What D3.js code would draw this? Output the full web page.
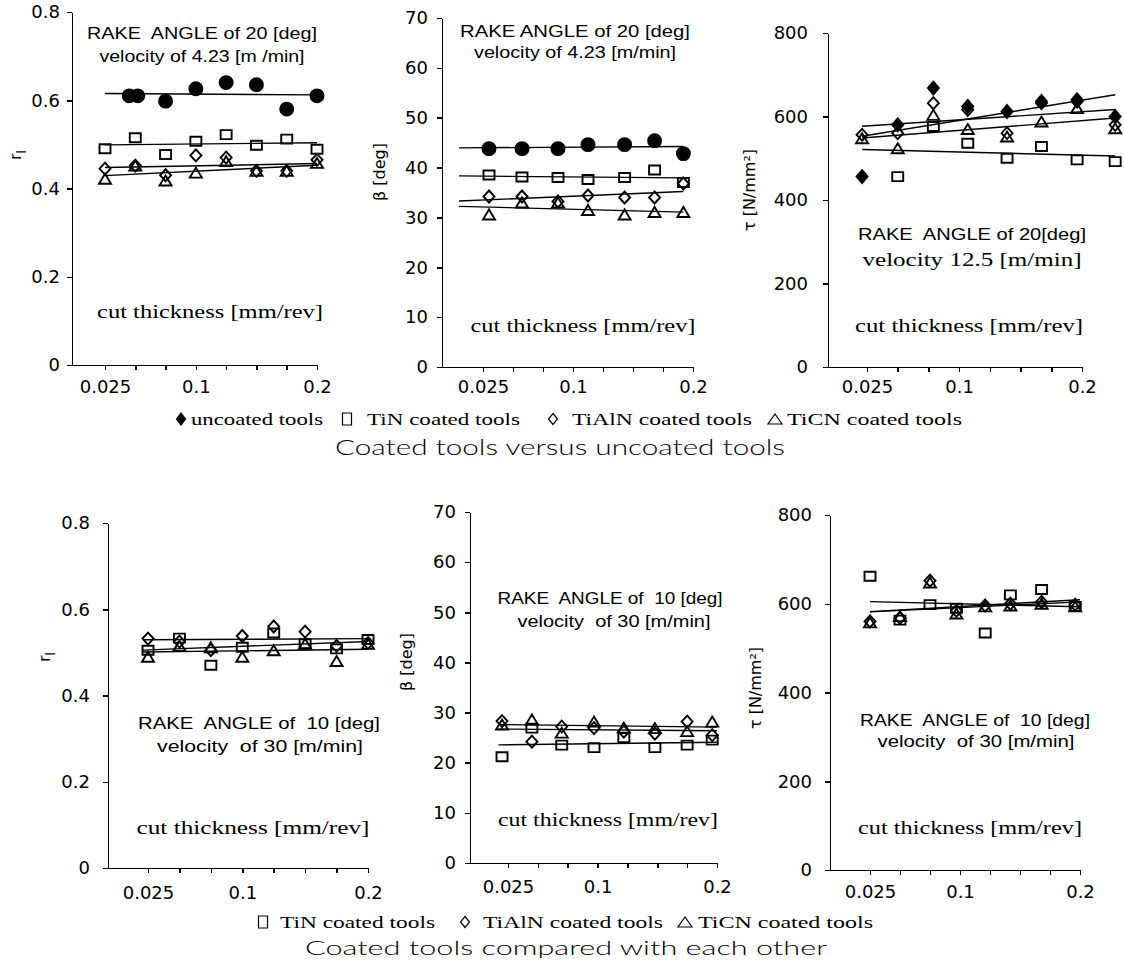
<!DOCTYPE html>
<html>
<head>
<meta charset="utf-8">
<script src="https://cdn.jsdelivr.net/npm/d3@7"></script>
<style>
  body { margin: 0; background: #fff; }
  svg { display: block; }
  .axis path, .axis line { stroke: #000; stroke-width: 1.5; shape-rendering: crispEdges; }
  .axis text { font-family: "DejaVu Sans", Verdana, sans-serif; font-size: 18px; fill: #000; }
  .note { font-family: "Liberation Sans", Arial, sans-serif; font-size: 16px; fill: #000; }
  .serif { font-family: "Liberation Serif", "Times New Roman", serif; font-size: 19px; }
  .ylab { font-family: "DejaVu Sans", Verdana, sans-serif; font-size: 16px; fill: #000; }
  .legend { font-family: "Liberation Serif", "Times New Roman", serif; font-size: 17px; fill: #000; }
  .title { font-family: Lato, "Open Sans", sans-serif; font-weight: 300; fill: #000; }
</style>
</head>
<body>
<svg id="chart" width="1124" height="969"></svg>
<script>
// ---- ticks
const thicknessTicks = [0.025, 0.05, 0.075, 0.1, 0.125, 0.15, 0.175, 0.2]
const thicknessLabels = ['0.025', '', '', '0.1', '', '', '', '0.2']
const rTicks = [0, 0.2, 0.4, 0.6, 0.8]
const betaTicks = [0, 10, 20, 30, 40, 50, 60, 70]
const tauTicks = [0, 200, 400, 600, 800]

const toolNames = ['uncoated tools', 'TiN coated tools', 'TiAlN coated tools', 'TiCN coated tools']

// ---- rake 20 deg, 4.23 m/min : chip ratio
const rTopX = [0.025, 0.05, 0.075, 0.1, 0.125, 0.15, 0.175, 0.2]
const rTopUncoatedX = [0.045, 0.052, 0.075, 0.1, 0.125, 0.15, 0.175, 0.2]
const rTopUncoated = [0.61, 0.61, 0.598, 0.626, 0.64, 0.635, 0.58, 0.61]
const rTopTiN = [0.49, 0.515, 0.477, 0.507, 0.522, 0.498, 0.512, 0.489]
const rTopTiAlN = [0.445, 0.452, 0.43, 0.475, 0.47, 0.44, 0.44, 0.465]
const rTopTiCN = [0.422, 0.452, 0.418, 0.436, 0.462, 0.44, 0.44, 0.458]

// ---- rake 20 deg, 4.23 m/min : friction angle
const betaTopX = [0.03, 0.0575, 0.0875, 0.1125, 0.143, 0.168, 0.192]
const betaTopUncoated = [43.8, 43.8, 43.8, 44.6, 44.6, 45.4, 42.8]
const betaTopTiN = [38.5, 38.1, 38, 37.6, 38, 39.5, 37]
const betaTopTiAlN = [34.2, 34.2, 33.2, 34.4, 34, 34, 36.8]
const betaTopTiCN = [30.6, 33, 33, 31.5, 30.6, 31.1, 31.1]

// ---- rake 20 deg, 12.5 m/min : shear stress
const tauTopX = [0.021, 0.05, 0.079, 0.107, 0.139, 0.167, 0.196, 0.227]
const tauTopUncoated = [456, 580, 668, 624, 612, 636, 640, 600]
const tauTopTiN = [null, 456, 576, 536, 500, 528, 496, 492]
const tauTopTiAlN = [556, 560, 632, 616, 560, 632, 636, 580]
const tauTopTiCN = [548, 524, 604, 570, 552, 588, 620, 572]

// ---- rake 10 deg, 30 m/min
const rBotX = [0.025, 0.05, 0.075, 0.1, 0.125, 0.15, 0.175, 0.2]
const rBotTiN = [0.505, 0.533, 0.47, 0.512, 0.545, 0.52, 0.508, 0.53]
const rBotTiAlN = [0.532, 0.525, 0.505, 0.538, 0.56, 0.548, 0.515, 0.522]
const rBotTiCN = [0.49, 0.515, 0.512, 0.49, 0.505, 0.52, 0.48, 0.52]

const betaBotX = [0.02, 0.045, 0.07, 0.097, 0.122, 0.148, 0.175, 0.196]
const betaBotTiN = [21.2, 26.9, 23.5, 23, 25, 23, 23.5, 24.5]
const betaBotTiAlN = [28.3, 24.2, 27.2, 26.9, 26.2, 25.8, 28.2, 25.5]
const betaBotTiCN = [27.6, 28.6, 26, 28.2, 27, 26.9, 26.3, 28.2]

const tauBotX = [0.025, 0.05, 0.075, 0.097, 0.121, 0.142, 0.168, 0.196]
const tauBotTiN = [662, 563, 598, 590, 534, 620, 632, 594]
const tauBotTiAlN = [560, 568, 652, 584, 596, 600, 604, 598]
const tauBotTiCN = [558, 572, 648, 578, 594, 596, 600, 594]

const rFmt = d => d === 0 ? '0' : d3.format('.1f')(d)
const intFmt = d3.format('d')

var svg = d3.select('#chart')

function markerPath (kind, w, h) {
  var a = w / 2
  var b = h / 2
  if (kind === 'square') return `M${-a},${-b}H${a}V${b}H${-a}Z`
  if (kind === 'diamond' || kind === 'fdiamond') return `M0,${-b}L${a},0L0,${b}L${-a},0Z`
  if (kind === 'triangle') return `M0,${-b}L${a},${b}H${-a}Z`
  return d3.symbol(d3.symbolCircle, Math.PI * a * a)()
}

var markerSize = {
  dot: [13, 13], square: [11, 9], diamond: [11, 12], fdiamond: [11, 13], triangle: [12, 10]
}

// least squares trend, like the spreadsheet trendlines
function trend (xs, ys) {
  var pts = xs.map((x, i) => [x, ys[i]]).filter(p => p[1] != null)
  var mx = d3.mean(pts, p => p[0])
  var my = d3.mean(pts, p => p[1])
  var sxy = d3.sum(pts, p => (p[0] - mx) * (p[1] - my))
  var sxx = d3.sum(pts, p => (p[0] - mx) * (p[0] - mx))
  var k = sxy / sxx
  return x => my + k * (x - mx)
}

var panels = [
  {
    ax: 72, x025: 105, x2: 317, top: 12, bot: 365, dom: [0, 0.8], ticks: rTicks, fmt: rFmt,
    ypad: 7, xpad: 10, label: 'r', lx: 15, ly: 155, fit: [0.025, 0.2],
    series: [
      {kind: 'dot', x: rTopUncoatedX, y: rTopUncoated},
      {kind: 'square', x: rTopX, y: rTopTiN},
      {kind: 'diamond', x: rTopX, y: rTopTiAlN},
      {kind: 'triangle', x: rTopX, y: rTopTiCN}
    ],
    notes: [
      {t: 'RAKE  ANGLE of 20 [deg]', x: 202, y: 39, w: 230},
      {t: 'velocity of 4.23 [m /min]', x: 202, y: 62, w: 205},
      {t: 'cut thickness [mm/rev]', x: 210, y: 318, w: 226, serif: true}
    ]
  },
  {
    ax: 442, x025: 483, x2: 693, top: 18, bot: 367, dom: [0, 70], ticks: betaTicks, fmt: intFmt,
    ypad: 9, xpad: 8, label: 'β [deg]', lx: 379, ly: 172, fit: [0.005, 0.192],
    series: [
      {kind: 'dot', x: betaTopX, y: betaTopUncoated},
      {kind: 'square', x: betaTopX, y: betaTopTiN},
      {kind: 'diamond', x: betaTopX, y: betaTopTiAlN},
      {kind: 'triangle', x: betaTopX, y: betaTopTiCN}
    ],
    notes: [
      {t: 'RAKE ANGLE of 20 [deg]', x: 575, y: 37, w: 230},
      {t: 'velocity of 4.23 [m/min]', x: 575, y: 58, w: 202},
      {t: 'cut thickness [mm/rev]', x: 583, y: 332, w: 225, serif: true}
    ]
  },
  {
    ax: 828, x025: 867, x2: 1082, top: 33, bot: 367, dom: [0, 800], ticks: tauTicks, fmt: intFmt,
    ypad: 15, xpad: 8, label: 'τ [N/mm²]', lx: 749, ly: 190, fit: [0.021, 0.227],
    series: [
      {kind: 'fdiamond', x: tauTopX, y: tauTopUncoated},
      {kind: 'square', x: tauTopX, y: tauTopTiN},
      {kind: 'diamond', x: tauTopX, y: tauTopTiAlN},
      {kind: 'triangle', x: tauTopX, y: tauTopTiCN}
    ],
    notes: [
      {t: 'RAKE  ANGLE of 20[deg]', x: 972, y: 240, w: 228},
      {t: 'velocity 12.5 [m/min]', x: 972, y: 266, w: 219, serif: true},
      {t: 'cut thickness [mm/rev]', x: 969, y: 332, w: 228, serif: true}
    ]
  },
  {
    ax: 108, x025: 148, x2: 368, top: 523, bot: 868, dom: [0, 0.8], ticks: rTicks, fmt: rFmt,
    ypad: 13, xpad: 13, label: 'r', lx: 44, ly: 657, fit: [0.021, 0.2],
    series: [
      {kind: 'square', x: rBotX, y: rBotTiN},
      {kind: 'diamond', x: rBotX, y: rBotTiAlN},
      {kind: 'triangle', x: rBotX, y: rBotTiCN}
    ],
    notes: [
      {t: 'RAKE  ANGLE of  10 [deg]', x: 259, y: 729, w: 242},
      {t: 'velocity  of 30 [m/min]', x: 260, y: 752, w: 206},
      {t: 'cut thickness [mm/rev]', x: 253, y: 834, w: 233, serif: true}
    ]
  },
  {
    ax: 470, x025: 508, x2: 717, top: 512, bot: 863, dom: [0, 70], ticks: betaTicks, fmt: intFmt,
    ypad: 9, xpad: 12, label: 'β [deg]', lx: 406, ly: 662, fit: [0.017, 0.2],
    series: [
      {kind: 'square', x: betaBotX, y: betaBotTiN},
      {kind: 'diamond', x: betaBotX, y: betaBotTiAlN},
      {kind: 'triangle', x: betaBotX, y: betaBotTiCN}
    ],
    notes: [
      {t: 'RAKE  ANGLE of  10 [deg]', x: 610, y: 604, w: 225},
      {t: 'velocity  of 30 [m/min]', x: 614, y: 627, w: 193},
      {t: 'cut thickness [mm/rev]', x: 608, y: 826, w: 220, serif: true}
    ]
  },
  {
    ax: 830, x025: 870, x2: 1080, top: 515, bot: 870, dom: [0, 800], ticks: tauTicks, fmt: intFmt,
    ypad: 13, xpad: 10, label: 'τ [N/mm²]', lx: 755, ly: 688, fit: [0.025, 0.2],
    series: [
      {kind: 'square', x: tauBotX, y: tauBotTiN},
      {kind: 'diamond', x: tauBotX, y: tauBotTiAlN},
      {kind: 'triangle', x: tauBotX, y: tauBotTiCN}
    ],
    notes: [
      {t: 'RAKE  ANGLE of  10 [deg]', x: 975, y: 726, w: 230},
      {t: 'velocity  of 30 [m/min]', x: 976, y: 747, w: 197},
      {t: 'cut thickness [mm/rev]', x: 970, y: 834, w: 224, serif: true}
    ]
  }
]

panels.forEach(function (p) {
  var g = svg.append('g')

  // x scale anchored on the 0.025 and 0.2 ticks, stretched back to the y axis
  var x = d3.scaleLinear().domain([0.025, 0.2]).range([p.x025, p.x2])
  x.domain([x.invert(p.ax), 0.2]).range([p.ax, p.x2])
  var y = d3.scaleLinear().domain(p.dom).range([p.bot, p.top])

  g.append('g')
    .attr('class', 'axis')
    .attr('transform', `translate(0,${p.bot})`)
    .call(d3.axisBottom(x)
      .tickValues(thicknessTicks)
      .tickSize(5)
      .tickSizeOuter(0)
      .tickPadding(p.xpad)
      .tickFormat((d, i) => thicknessLabels[i]))

  g.append('g')
    .attr('class', 'axis')
    .attr('transform', `translate(${p.ax},0)`)
    .call(d3.axisLeft(y)
      .tickValues(p.ticks)
      .tickSize(5)
      .tickSizeOuter(0)
      .tickPadding(p.ypad)
      .tickFormat(p.fmt))

  // y axis title
  var yl = g.append('text')
    .attr('class', 'ylab')
    .attr('transform', `translate(${p.lx},${p.ly}) rotate(-90)`)
    .attr('text-anchor', 'middle')
    .attr('dy', '0.35em')
  if (p.label === 'r') {
    yl.append('tspan').text('r')
    yl.append('tspan').attr('dy', 5).attr('font-size', 12).text('l')
  } else {
    yl.text(p.label)
  }

  // trend lines
  p.series.forEach(function (s) {
    var f = trend(s.x, s.y)
    g.append('line')
      .attr('x1', x(p.fit[0])).attr('y1', y(f(p.fit[0])))
      .attr('x2', x(p.fit[1])).attr('y2', y(f(p.fit[1])))
      .attr('stroke', '#000')
      .attr('stroke-width', 1.4)
  })

  // markers
  p.series.forEach(function (s) {
    var pts = s.x.map((v, i) => [v, s.y[i]]).filter(d => d[1] != null)
    var sz = markerSize[s.kind]
    var solid = s.kind === 'dot' || s.kind === 'fdiamond'
    g.selectAll(null)
      .data(pts)
      .enter()
      .append('path')
      .attr('transform', d => `translate(${x(d[0])},${y(d[1])})`)
      .attr('d', markerPath(s.kind, sz[0], sz[1]))
      .attr('fill', solid ? '#000' : 'none')
      .attr('stroke', '#000')
      .attr('stroke-width', 1.9)
  })

  // in-plot annotations
  p.notes.forEach(function (n) {
    g.append('text')
      .attr('class', n.serif ? 'note serif' : 'note')
      .attr('x', n.x)
      .attr('y', n.y)
      .attr('text-anchor', 'middle')
      .attr('textLength', n.w)
      .attr('lengthAdjust', 'spacingAndGlyphs')
      .style('white-space', 'pre')
      .text(n.t)
  })
})

/*
  legends and captions
*/
var legendTop = [
  {kind: 'fdiamond', name: toolNames[0], mx: 181, tx: 191, tw: 132},
  {kind: 'square', name: toolNames[1], mx: 347, tx: 367, tw: 153},
  {kind: 'diamond', name: toolNames[2], mx: 553, tx: 572, tw: 180},
  {kind: 'triangle', name: toolNames[3], mx: 775, tx: 787, tw: 175}
]
var legendBottom = [
  {kind: 'square', name: toolNames[1], mx: 263, tx: 280, tw: 155},
  {kind: 'diamond', name: toolNames[2], mx: 465, tx: 483, tw: 180},
  {kind: 'triangle', name: toolNames[3], mx: 685, tx: 698, tw: 175}
]
var legendGlyph = {fdiamond: [9, 12], square: [9, 12], diamond: [9, 11], triangle: [14, 10]}

function drawLegend (items, base, size) {
  var g = svg.append('g')
  items.forEach(function (it) {
    var sz = legendGlyph[it.kind]
    g.append('path')
      .attr('transform', `translate(${it.mx},${base - 6})`)
      .attr('d', markerPath(it.kind, sz[0], sz[1]))
      .attr('fill', it.kind === 'fdiamond' ? '#000' : 'none')
      .attr('stroke', '#000')
      .attr('stroke-width', 1.2)
    g.append('text')
      .attr('class', 'legend')
      .attr('x', it.tx)
      .attr('y', base)
      .attr('font-size', size)
      .attr('textLength', it.tw)
      .attr('lengthAdjust', 'spacingAndGlyphs')
      .text(it.name)
  })
}
drawLegend(legendTop, 425, 17)
drawLegend(legendBottom, 928, 16)

svg.append('text')
  .attr('class', 'title')
  .attr('x', 335).attr('y', 455)
  .attr('font-size', 21)
  .attr('textLength', 450)
  .attr('lengthAdjust', 'spacingAndGlyphs')
  .text('Coated tools versus uncoated tools')

svg.append('text')
  .attr('class', 'title')
  .attr('x', 305).attr('y', 955)
  .attr('font-size', 20)
  .attr('textLength', 522)
  .attr('lengthAdjust', 'spacingAndGlyphs')
  .text('Coated tools compared with each other')
</script>
</body>
</html>
